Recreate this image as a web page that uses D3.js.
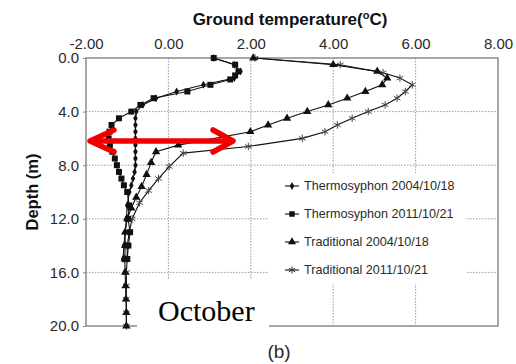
<!DOCTYPE html>
<html>
<head>
<meta charset="utf-8">
<script src="https://cdn.jsdelivr.net/npm/d3@7"></script>
<style>
  html, body { margin: 0; padding: 0; background: #fff; }
  svg { display: block; }
</style>
</head>
<body>
<svg id="chart" width="516" height="364"></svg>
<script>
// Ground temperature profiles (depth vs temperature), October
const xTicks = [-2, 0, 2, 4, 6, 8];
const xTickLabels = ["-2.00", "0.00", "2.00", "4.00", "6.00", "8.00"];
const yTicks = [0, 4, 8, 12, 16, 20];
const yTickLabels = ["0.0", "4.0", "8.0", "12.0", "16.0", "20.0"];

const seriesNames = [
  "Thermosyphon 2004/10/18",
  "Thermosyphon 2011/10/21",
  "Traditional 2004/10/18",
  "Traditional 2011/10/21"
];

// Thermosyphon 2004/10/18
const thermo2004Depth = [0, 0.5, 1.0, 1.5, 2.0, 2.5, 3.0, 3.5, 4.0, 4.5, 5.0, 5.5, 6.0, 6.5, 7.0, 7.5, 8.0, 8.5, 9.0, 9.5, 10, 11, 12, 13, 14, 15];
const thermo2004Temp  = [1.1, 1.6, 1.75, 1.6, 0.85, 0.2, -0.3, -0.62, -0.78, -0.8, -0.8, -0.8, -0.8, -0.8, -0.8, -0.8, -0.8, -0.82, -0.86, -0.9, -0.95, -1.0, -1.02, -1.05, -1.08, -1.1];

// Thermosyphon 2011/10/21
const thermo2011Depth = [0, 0.5, 1.0, 1.3, 1.6, 2.0, 2.5, 3.0, 3.5, 4.0, 4.5, 5.0, 5.5, 6.0, 6.5, 7.0, 7.5, 8.0, 8.5, 9.0, 9.5, 10, 11, 12, 13, 14, 15];
const thermo2011Temp  = [1.1, 1.62, 1.7, 1.62, 1.5, 1.02, 0.46, -0.36, -0.68, -0.9, -1.2, -1.38, -1.43, -1.45, -1.42, -1.36, -1.3, -1.25, -1.2, -1.14, -1.08, -1.0, -0.95, -0.98, -0.93, -0.97, -1.0];

// Traditional 2004/10/18
const trad2004Depth = [0, 0.5, 1.0, 1.5, 2.0, 2.5, 3.0, 3.5, 4.0, 4.5, 5.0, 5.5, 6.5, 7.0, 7.8, 8.7, 9.6, 10.4, 11.2, 12, 13, 14, 15, 16, 17, 18, 19, 20];
const trad2004Temp  = [2.06, 4.0, 5.07, 5.31, 5.19, 4.78, 4.34, 3.88, 3.37, 2.88, 2.42, 1.99, 0.24, -0.3, -0.42, -0.53, -0.65, -0.78, -0.9, -1.0, -1.05, -1.05, -1.06, -1.05, -1.04, -1.03, -1.02, -1.02];

// Traditional 2011/10/21
const trad2011Depth = [0, 0.5, 1.1, 1.5, 2.0, 2.5, 3.0, 3.5, 4.0, 4.5, 5.0, 5.5, 6.0, 6.6, 7.1, 8.1, 9.0, 9.9, 10.8, 12, 13, 14, 15, 16, 17, 18, 19, 20];
const trad2011Temp  = [2.1, 4.17, 5.21, 5.62, 5.92, 5.75, 5.55, 5.26, 4.85, 4.46, 4.1, 3.8, 3.25, 1.94, 0.36, 0.02, -0.24, -0.48, -0.7, -0.88, -0.95, -1.0, -1.0, -1.02, -1.02, -1.02, -1.02, -1.02];

const svg = d3.select("#chart");
const x = d3.scaleLinear().domain([-2, 8]).range([86, 498]);
const y = d3.scaleLinear().domain([0, 20]).range([58, 326]);

const gridColor = "#9a9a9a";
const frameColor = "#8a8a8a";
const textColor = "#2a2a2a";

// dotted grid
const grid = svg.append("g");
grid.selectAll("line.vx").data(xTicks.slice(1, -1)).join("line")
  .attr("x1", d => x(d)).attr("x2", d => x(d))
  .attr("y1", y(0)).attr("y2", y(20))
  .attr("stroke", gridColor).attr("stroke-width", 1).attr("stroke-dasharray", "1.5,1.5");
grid.selectAll("line.hy").data(yTicks.slice(1, -1)).join("line")
  .attr("x1", x(-2)).attr("x2", x(8))
  .attr("y1", d => y(d)).attr("y2", d => y(d))
  .attr("stroke", gridColor).attr("stroke-width", 1).attr("stroke-dasharray", "1.5,1.5");

// frame
svg.append("rect")
  .attr("x", x(-2)).attr("y", y(0))
  .attr("width", x(8) - x(-2)).attr("height", y(20) - y(0))
  .attr("fill", "none").attr("stroke", frameColor).attr("stroke-width", 1.5);

// axes
const xAxis = svg.append("g")
  .attr("transform", `translate(0,${y(0)})`)
  .call(d3.axisTop(x).tickValues(xTicks).tickSize(0).tickPadding(9)
    .tickFormat((d, i) => xTickLabels[i]));
xAxis.select(".domain").remove();
xAxis.selectAll("text")
  .attr("font-family", "Liberation Sans, Arial, sans-serif")
  .attr("font-size", 15).attr("fill", textColor);

const yAxis = svg.append("g")
  .attr("transform", `translate(${x(-2)},0)`)
  .call(d3.axisLeft(y).tickValues(yTicks).tickSize(3).tickPadding(4)
    .tickFormat((d, i) => yTickLabels[i]));
yAxis.select(".domain").remove();
yAxis.selectAll("line").attr("stroke", frameColor);
yAxis.selectAll("text")
  .attr("font-family", "Liberation Sans, Arial, sans-serif")
  .attr("font-size", 15).attr("fill", textColor);

// axis titles
const title = svg.append("text")
  .attr("x", 290).attr("y", 25)
  .attr("text-anchor", "middle")
  .attr("font-family", "Liberation Sans, Arial, sans-serif")
  .attr("font-weight", "bold").attr("font-size", 17).attr("fill", "#111");
title.append("tspan").text("Ground temperature(");
title.append("tspan").attr("font-size", 11).attr("dy", -6).text("o");
title.append("tspan").attr("dy", 6).text("C)");

svg.append("text")
  .attr("transform", "translate(38,192) rotate(-90)")
  .attr("text-anchor", "middle")
  .attr("font-family", "Liberation Sans, Arial, sans-serif")
  .attr("font-weight", "bold").attr("font-size", 16.5).attr("fill", "#111")
  .text("Depth (m)");

// series
const series = [
  { name: seriesNames[3], depth: trad2011Depth, temp: trad2011Temp, symbol: d3.symbolAsterisk, size: 40, filled: false },
  { name: seriesNames[2], depth: trad2004Depth, temp: trad2004Temp, symbol: d3.symbolTriangle, size: 30, filled: true },
  { name: seriesNames[0], depth: thermo2004Depth, temp: thermo2004Temp, symbol: d3.symbolDiamond, size: 18, filled: true },
  { name: seriesNames[1], depth: thermo2011Depth, temp: thermo2011Temp, symbol: d3.symbolSquare, size: 36, filled: true }
];

const line = d3.line().x(d => x(d.t)).y(d => y(d.d));

series.forEach(s => {
  const pts = s.depth.map((d, i) => ({ d, t: s.temp[i] }));
  const g = svg.append("g");
  g.append("path").datum(pts)
    .attr("d", line).attr("fill", "none")
    .attr("stroke", "#111").attr("stroke-width", 1.1);
  g.selectAll("path.m").data(pts).join("path")
    .attr("class", "m")
    .attr("transform", p => `translate(${x(p.t)},${y(p.d)})`)
    .attr("d", d3.symbol().type(s.symbol).size(s.size))
    .attr("fill", s.filled ? "#111" : "none")
    .attr("stroke", s.filled ? "none" : "#444")
    .attr("stroke-width", 1);
});

// legend
svg.append("rect").attr("x", 268).attr("y", 173).attr("width", 199).attr("height", 111).attr("fill", "#fff");
const legendOrder = [
  { name: seriesNames[0], symbol: d3.symbolDiamond, size: 18, filled: true },
  { name: seriesNames[1], symbol: d3.symbolSquare, size: 30, filled: true },
  { name: seriesNames[2], symbol: d3.symbolTriangle, size: 28, filled: true },
  { name: seriesNames[3], symbol: d3.symbolAsterisk, size: 36, filled: false }
];
const lg = svg.append("g").selectAll("g").data(legendOrder).join("g")
  .attr("transform", (d, i) => `translate(292,${186 + i * 28})`);
lg.append("line").attr("x1", -7).attr("x2", 7).attr("stroke", "#222").attr("stroke-width", 1.2);
lg.append("path")
  .attr("d", d => d3.symbol().type(d.symbol).size(d.size)())
  .attr("fill", d => d.filled ? "#111" : "none")
  .attr("stroke", d => d.filled ? "none" : "#333");
lg.append("text")
  .attr("x", 12).attr("dy", "0.35em")
  .attr("font-family", "Liberation Sans, Arial, sans-serif")
  .attr("font-size", 12.6).attr("fill", textColor)
  .text(d => d.name);

// month label
svg.append("rect").attr("x", 137).attr("y", 279).attr("width", 132).attr("height", 62).attr("fill", "#fff");
svg.append("text")
  .attr("x", 158).attr("y", 321)
  .attr("font-family", "Liberation Serif, Times New Roman, serif")
  .attr("font-size", 30).attr("fill", "#000")
  .text("October");

svg.append("text")
  .attr("x", 279).attr("y", 358)
  .attr("text-anchor", "middle")
  .attr("font-family", "Liberation Sans, Arial, sans-serif")
  .attr("font-size", 19).attr("fill", textColor)
  .text("(b)");

// red double-headed arrow spanning the temperature range at ~6 m
const arrowY = 141;
const ax1 = 90, ax2 = 233;
const arrow = svg.append("g").attr("stroke", "#f20000").attr("stroke-width", 5.5)
  .attr("fill", "none").attr("stroke-linecap", "round").attr("stroke-linejoin", "round");
arrow.append("line").attr("x1", ax1 + 2).attr("x2", ax2 - 2).attr("y1", arrowY).attr("y2", arrowY);
arrow.append("polyline").attr("points", `${ax1 + 24},${arrowY - 11} ${ax1},${arrowY} ${ax1 + 24},${arrowY + 11}`);
arrow.append("polyline").attr("points", `${ax2 - 20},${arrowY - 11} ${ax2},${arrowY} ${ax2 - 20},${arrowY + 11}`);
</script>
</body>
</html>
